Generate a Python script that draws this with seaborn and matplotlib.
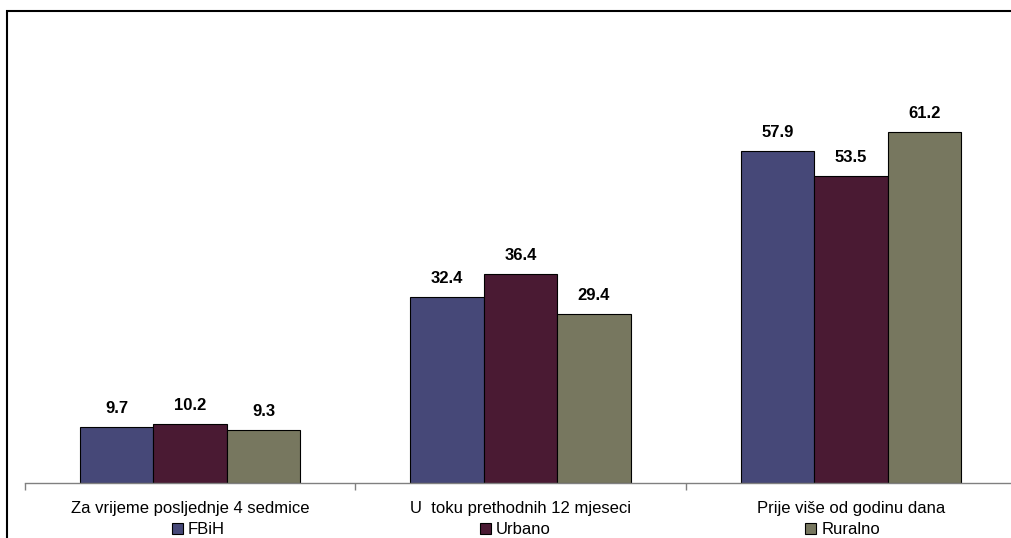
import matplotlib
matplotlib.use("Agg")
import matplotlib.pyplot as plt
import matplotlib.patches as mpatches
import numpy as np
import pandas as pd
import seaborn as sns

categories = ["Za vrijeme posljednje 4 sedmice", "U  toku prethodnih 12 mjeseci", "Prije više od godinu dana"]
series = ["FBiH", "Urbano", "Ruralno"]
fbih = [9.7, 32.4, 57.9]
urbano = [10.2, 36.4, 53.5]
ruralno = [9.3, 29.4, 61.2]
colors = ["#464878", "#4a1a33", "#77775f"]

df = pd.DataFrame({
    "kategorija": categories * 3,
    "serija": ["FBiH"] * 3 + ["Urbano"] * 3 + ["Ruralno"] * 3,
    "vrijednost": fbih + urbano + ruralno,
})

sns.set_theme(style="white")
plt.rcParams["font.family"] = ["Liberation Sans", "DejaVu Sans"]
plt.rcParams["text.color"] = "black"
plt.rcParams["xtick.color"] = "black"

W, H = 1012, 538
fig = plt.figure(figsize=(W / 100, H / 100), dpi=100)
ax = fig.add_axes([25 / W, (H - 483) / H, 991 / W, 459 / H])

sns.barplot(data=df, x="kategorija", y="vrijednost", hue="serija", order=categories,
            hue_order=series, palette=colors, width=0.667, gap=0, edgecolor="black",
            linewidth=0.8, saturation=1, ax=ax, legend=False)

for cont in ax.containers:
    ax.bar_label(cont, fmt="%.1f", padding=8, fontsize=12, fontweight="bold", color="black")

ax.set_ylim(0, 80)
ax.set_xlim(-0.5, 2.5)
ax.set_xlabel("")
ax.set_ylabel("")
ax.set_yticks([])
for s in ["top", "right", "left"]:
    ax.spines[s].set_visible(False)
ax.spines["bottom"].set_color("#808080")
ax.spines["bottom"].set_linewidth(1.0)

ax.set_xticks([-0.5, 0.5, 1.5, 2.5])
ax.set_xticklabels([])
ax.tick_params(axis="x", which="major", direction="out", length=5, color="#808080", width=1, bottom=True)
ax.set_xticks([0, 1, 2], minor=True)
ax.set_xticklabels(categories, minor=True, fontsize=12)
ax.tick_params(axis="x", which="minor", length=0, pad=13, labelcolor="black")

handles = [mpatches.Patch(facecolor=c, edgecolor="black", linewidth=0.8, label=s)
           for c, s in zip(colors, series)]
fig.legend(handles=handles, loc="center", bbox_to_anchor=(526 / W, 1 - 530 / H), ncol=3,
           frameon=False, fontsize=12, handlelength=0.65, handleheight=0.65,
           handletextpad=0.3, columnspacing=15.3, borderaxespad=0, borderpad=0)

frame = mpatches.Rectangle((7 / W, -0.1), 1.2, (H - 11) / H + 0.1, transform=fig.transFigure,
                           fill=False, edgecolor="black", linewidth=1.5, clip_on=False)
fig.patches.append(frame)

fig.savefig("out.png", dpi=100)
